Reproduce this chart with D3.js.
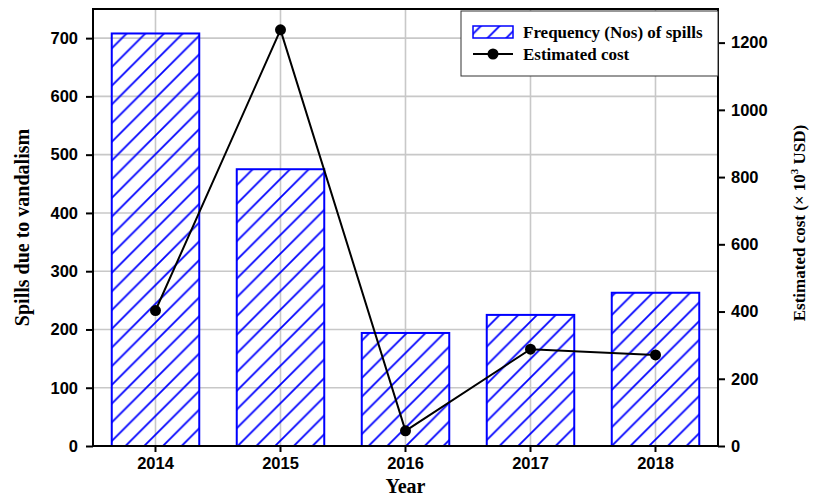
<!DOCTYPE html>
<html>
<head>
<meta charset="utf-8">
<script src="https://cdn.jsdelivr.net/npm/d3@7"></script>
<style>
  html, body { margin: 0; padding: 0; background: #fff; }
  svg { display: block; }
  .tick text { font-family: "Liberation Sans", Arial, sans-serif; font-weight: bold; font-size: 16.5px; fill: #000; }
  .title { font-family: "Liberation Serif", "Times New Roman", serif; font-weight: bold; fill: #000; }
</style>
</head>
<body>
<svg id="chart" width="814" height="499"></svg>
<script>
// Vandalism-related spills per year and their estimated cost
const years = ["2014", "2015", "2016", "2017", "2018"];
const spills = [708, 475, 194, 225, 263];
const costs = [403, 1238, 45, 288, 271];
const leftTicks = [0, 100, 200, 300, 400, 500, 600, 700];
const rightTicks = [0, 200, 400, 600, 800, 1000, 1200];

const W = 814, H = 499;
const m = { left: 93, right: 96, top: 9, bottom: 53 };
const iw = W - m.left - m.right, ih = H - m.top - m.bottom;

const svg = d3.select("#chart");
const defs = svg.append("defs");

// diagonal "/" hatch fill for bars
const P = 18.7;
defs.append("pattern")
  .attr("id", "hatch")
  .attr("patternUnits", "userSpaceOnUse")
  .attr("x", 2).attr("y", 0)
  .attr("width", P).attr("height", P)
  .append("path")
  .attr("d", `M-2,2 L2,-2 M0,${P} L${P},0 M${P - 2},${P + 2} L${P + 2},${P - 2}`)
  .attr("stroke", "#0000ff").attr("stroke-width", 1.8).attr("fill", "none");

const g = svg.append("g").attr("transform", `translate(${m.left},${m.top})`);

const x = d3.scaleBand().domain(years).range([0, iw]).paddingInner(0.3).paddingOuter(0.15);
const yL = d3.scaleLinear().domain([0, 750]).range([ih, 0]);
const yR = d3.scaleLinear().domain([0, 1300]).range([ih, 0]);
const cx = d => x(d) + x.bandwidth() / 2;

// grid
g.append("g").selectAll("line.h").data(leftTicks.slice(1)).join("line")
  .attr("x1", 0).attr("x2", iw)
  .attr("y1", d => yL(d)).attr("y2", d => yL(d))
  .attr("stroke", "#c8c8c8").attr("stroke-width", 1.6);
g.append("g").selectAll("line.v").data(years).join("line")
  .attr("x1", d => cx(d)).attr("x2", d => cx(d))
  .attr("y1", 0).attr("y2", ih)
  .attr("stroke", "#c8c8c8").attr("stroke-width", 1.6);

// bars
g.append("g").selectAll("rect").data(years).join("rect")
  .attr("x", d => x(d))
  .attr("width", x.bandwidth())
  .attr("y", (d, i) => yL(spills[i]))
  .attr("height", (d, i) => ih - yL(spills[i]))
  .attr("fill", "url(#hatch)")
  .attr("stroke", "#0000ff").attr("stroke-width", 2);

// cost line
const line = d3.line().x((d, i) => cx(years[i])).y(d => yR(d));
g.append("path").datum(costs)
  .attr("d", line).attr("fill", "none")
  .attr("stroke", "#000").attr("stroke-width", 2);
g.append("g").selectAll("circle").data(costs).join("circle")
  .attr("cx", (d, i) => cx(years[i])).attr("cy", d => yR(d))
  .attr("r", 5.5).attr("fill", "#000");

// axes
function styleAxis(sel) {
  sel.select(".domain").remove();
  sel.selectAll(".tick line").attr("stroke", "#000").attr("stroke-width", 2);
}
g.append("g").attr("transform", `translate(0,${ih})`)
  .call(d3.axisBottom(x).tickSize(6).tickPadding(5))
  .call(styleAxis);
g.append("g")
  .call(d3.axisLeft(yL).tickValues(leftTicks).tickFormat(d3.format("d")).tickSize(7).tickPadding(8))
  .call(styleAxis);
g.append("g").attr("transform", `translate(${iw},0)`)
  .call(d3.axisRight(yR).tickValues(rightTicks).tickFormat(d3.format("d")).tickSize(7).tickPadding(6))
  .call(styleAxis);

// frame
g.append("rect").attr("x", 0).attr("y", 0).attr("width", iw).attr("height", ih)
  .attr("fill", "none").attr("stroke", "#000").attr("stroke-width", 2);

// axis titles
svg.append("text").attr("class", "title")
  .attr("x", m.left + iw / 2).attr("y", 493)
  .attr("text-anchor", "middle").style("font-size", "20px").text("Year");
svg.append("text").attr("class", "title")
  .attr("transform", `translate(29,${m.top + ih / 2}) rotate(-90)`)
  .attr("text-anchor", "middle").style("font-size", "20px").text("Spills due to vandalism");
const rt = svg.append("text").attr("class", "title")
  .attr("transform", `translate(805,223) rotate(-90)`)
  .attr("text-anchor", "middle").style("font-size", "17px");
rt.append("tspan").text("Estimated cost (× 10");
rt.append("tspan").attr("dy", -7).style("font-size", "11px").text("3");
rt.append("tspan").attr("dy", 7).text(" USD)");

// legend
const lg = svg.append("g");
lg.append("rect").attr("x", 461).attr("y", 11).attr("width", 257).attr("height", 65)
  .attr("fill", "#fff").attr("stroke", "#333").attr("stroke-width", 1);
lg.append("rect").attr("x", 473).attr("y", 26).attr("width", 40).attr("height", 12)
  .attr("fill", "url(#hatch)").attr("stroke", "#0000ff").attr("stroke-width", 1.5);
lg.append("text").attr("class", "title").attr("x", 523).attr("y", 38)
  .style("font-size", "17px").text("Frequency (Nos) of spills");
lg.append("line").attr("x1", 473).attr("x2", 513).attr("y1", 54).attr("y2", 54)
  .attr("stroke", "#000").attr("stroke-width", 2);
lg.append("circle").attr("cx", 493).attr("cy", 54).attr("r", 5.5).attr("fill", "#000");
lg.append("text").attr("class", "title").attr("x", 523).attr("y", 59.5)
  .style("font-size", "17px").text("Estimated cost");
</script>
</body>
</html>
